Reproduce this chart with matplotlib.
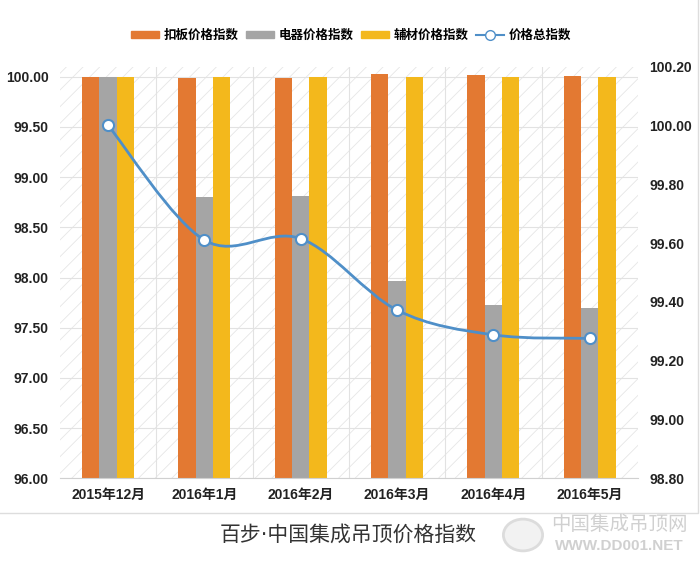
import matplotlib.pyplot as plt
import numpy as np
from matplotlib.path import Path
from matplotlib.patches import PathPatch, Patch, Rectangle, Circle
from matplotlib.lines import Line2D

plt.rcParams['font.family'] = ['Liberation Sans', 'Noto Sans CJK SC', 'DejaVu Sans']
plt.rcParams['hatch.linewidth'] = 0.6

months = ['2015年12月', '2016年1月', '2016年2月', '2016年3月', '2016年4月', '2016年5月']
kouban = [100.00, 99.99, 99.99, 100.03, 100.02, 100.01]
dianqi = [100.00, 98.80, 98.81, 97.97, 97.73, 97.70]
fucai = [100.00, 100.00, 100.00, 100.00, 100.00, 100.00]
total = [100.00, 99.61, 99.615, 99.372, 99.288, 99.276]

left_ticks = [96.0, 96.5, 97.0, 97.5, 98.0, 98.5, 99.0, 99.5, 100.0]
right_ticks = [98.8, 99.0, 99.2, 99.4, 99.6, 99.8, 100.0, 100.2]

c_orange = '#E37932'
c_gray = '#A5A5A5'
c_yellow = '#F3B81C'
c_blue = '#4F8FC8'


def smooth_path(xs, ys):
    # Excel-like smooth line: cubic bezier segments through the points
    pts = list(zip(xs, ys))
    verts = [pts[0]]
    codes = [Path.MOVETO]
    n = len(pts)
    for i in range(n - 1):
        p0 = pts[max(i - 1, 0)]
        p1 = pts[i]
        p2 = pts[i + 1]
        p3 = pts[min(i + 2, n - 1)]
        c1 = (p1[0] + (p2[0] - p0[0]) / 6, p1[1] + (p2[1] - p0[1]) / 6)
        c2 = (p2[0] - (p3[0] - p1[0]) / 6, p2[1] - (p3[1] - p1[1]) / 6)
        verts += [c1, c2, p2]
        codes += [Path.CURVE4] * 3
    return Path(verts, codes)


fig = plt.figure(figsize=(7, 5.67), dpi=100)
ax = fig.add_axes([0.0857, 0.1563, 0.8257, 0.7262])

# hatched background
ax.add_patch(Rectangle((0, 0), 1, 1, transform=ax.transAxes, facecolor='white',
                       edgecolor='#e6e6e6', hatch='//', lw=0, zorder=0))

x = np.arange(len(months))
w = 0.18
ax.bar(x - w, kouban, w, color=c_orange, zorder=2)
ax.bar(x, dianqi, w, color=c_gray, zorder=2)
ax.bar(x + w, fucai, w, color=c_yellow, zorder=2)

ax.set_xlim(-0.5, 5.5)
ax.set_ylim(96, 100.1)
ax.set_yticks(left_ticks)
ax.set_yticklabels([f'{v:.2f}' for v in left_ticks])
ax.set_xticks(x)
ax.set_xticklabels(months)
ax.set_xticks(x[:-1] + 0.5, minor=True)
ax.grid(axis='y', color='#e2e2e2', lw=0.8, zorder=1)
ax.grid(axis='x', which='minor', color='#e2e2e2', lw=0.8, zorder=1)
ax.set_axisbelow(True)
ax.tick_params(axis='both', which='both', length=0)
ax.tick_params(axis='y', pad=8, labelsize=10)
ax.tick_params(axis='x', pad=7, labelsize=10)
for lab in ax.get_xticklabels() + ax.get_yticklabels():
    lab.set_fontweight('bold')
    lab.set_color('#222222')
for s in ['top', 'left', 'right']:
    ax.spines[s].set_visible(False)
ax.spines['bottom'].set_color('#d0d0d0')

ax2 = ax.twinx()
ax2.set_ylim(98.8, 100.2)
ax2.set_yticks(right_ticks)
ax2.set_yticklabels([f'{v:.2f}' for v in right_ticks])
ax2.tick_params(axis='y', length=0, pad=8, labelsize=10)
for lab in ax2.get_yticklabels():
    lab.set_fontweight('bold')
    lab.set_color('#222222')
for s in ax2.spines.values():
    s.set_visible(False)

ax2.add_patch(PathPatch(smooth_path(x, total), facecolor='none', edgecolor=c_blue, lw=2, zorder=3))
ax2.plot(x, total, linestyle='none', marker='o', markersize=8, markerfacecolor='white',
         markeredgecolor=c_blue, markeredgewidth=1.5, zorder=4)

handles = [Patch(color=c_orange), Patch(color=c_gray), Patch(color=c_yellow),
           Line2D([], [], color=c_blue, lw=1.5, marker='o', markersize=7,
                  markerfacecolor='white', markeredgecolor=c_blue)]
labels = ['扣板价格指数', '电器价格指数', '辅材价格指数', '价格总指数']
fig.legend(handles, labels, loc='center', bbox_to_anchor=(0.502, 1 - 35 / 567), ncol=4,
           frameon=False, handlelength=2.2, handleheight=0.5, columnspacing=0.6,
           handletextpad=0.4, prop={'family': ['Noto Sans CJK SC'], 'weight': 'bold', 'size': 9})

# frame line and title
fig.add_artist(Line2D([0, 0.997, 0.997], [1 - 513 / 567, 1 - 513 / 567, 1.0],
                      transform=fig.transFigure, color='#dddddd', lw=1))
fig.text(0.497, 1 - 535 / 567, '百步·中国集成吊顶价格指数', ha='center', va='center',
         fontsize=15, color='#333333', family=['DejaVu Sans', 'Noto Sans CJK SC'])

# watermark
fig.add_artist(Circle((523 / 700, 1 - 535 / 567), 0.028, transform=fig.transFigure,
                      facecolor='#f2f2f2', edgecolor='#dcdcdc', lw=2))
fig.text(0.885, 1 - 525 / 567, '中国集成吊顶网', ha='center', va='center',
         fontsize=14, color='#d0d0d0', family=['Noto Sans CJK SC'])
fig.text(0.885, 1 - 546 / 567, 'WWW.DD001.NET', ha='center', va='center',
         fontsize=11, color='#d0d0d0', fontweight='bold')

fig.savefig('out.png', dpi=100)
